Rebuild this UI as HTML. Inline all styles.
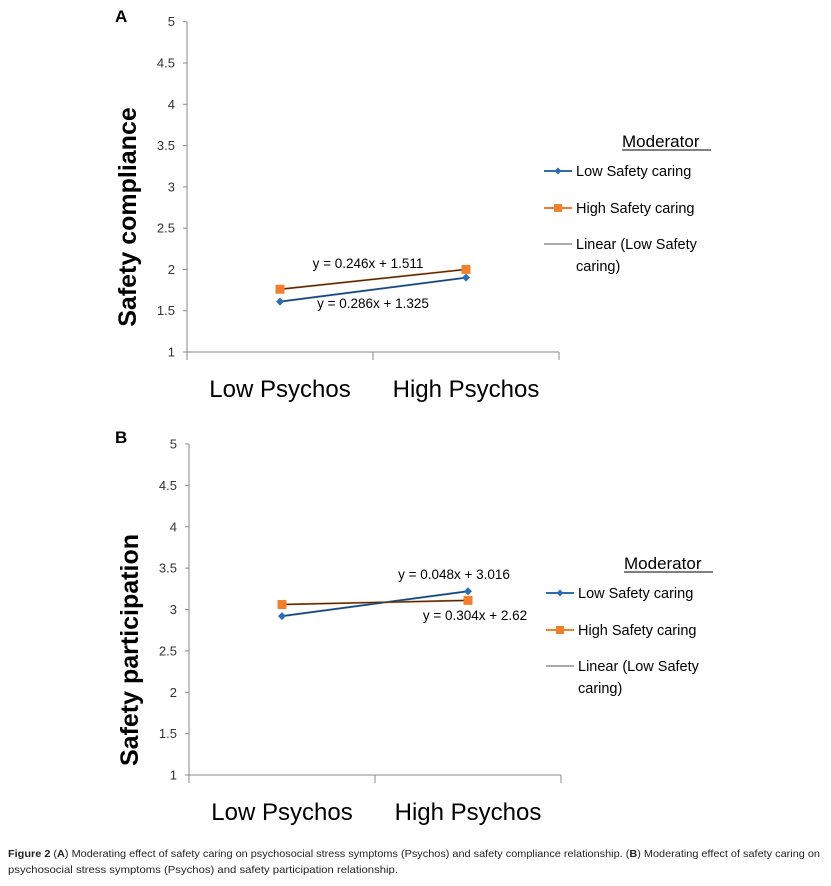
<!DOCTYPE html>
<html><head><meta charset="utf-8"><style>
html,body{margin:0;padding:0;background:#fff;}
svg{display:block;font-family:"Liberation Sans",sans-serif;}
</style></head><body>
<svg id="fig" width="831" height="886" viewBox="0 0 831 886" xmlns="http://www.w3.org/2000/svg">
<g id="chartA"></g>
<g id="chartB"></g>
<text x="8" y="857" font-size="10.5" textLength="812" lengthAdjust="spacingAndGlyphs" fill="#222"><tspan font-weight="bold">Figure 2</tspan> (<tspan font-weight="bold">A</tspan>) Moderating effect of safety caring on psychosocial stress symptoms (Psychos) and safety compliance relationship. (<tspan font-weight="bold">B</tspan>) Moderating effect of safety caring on</text>
<text x="8" y="873" font-size="10.5" textLength="390" lengthAdjust="spacingAndGlyphs" fill="#222">psychosocial stress symptoms (Psychos) and safety participation relationship.</text>
</svg>
<script>
const categories = ["Low Psychos", "High Psychos"];
const yTicks = [1, 1.5, 2, 2.5, 3, 3.5, 4, 4.5, 5];
const yTickLabels = ["1", "1.5", "2", "2.5", "3", "3.5", "4", "4.5", "5"];
const aLowCaring = [1.61, 1.90];
const aHighCaring = [1.76, 2.00];
const bLowCaring = [2.92, 3.22];
const bHighCaring = [3.06, 3.11];
const aEquations = ["y = 0.246x + 1.511", "y = 0.286x + 1.325"];
const bEquations = ["y = 0.048x + 3.016", "y = 0.304x + 2.62"];

const NS = "http://www.w3.org/2000/svg";
function mk(parent, tag, attrs, text) {
  const e = document.createElementNS(NS, tag);
  for (const k in attrs) e.setAttribute(k, attrs[k]);
  if (text !== undefined) e.textContent = text;
  parent.appendChild(e);
  return e;
}

function drawChart(g, cfg) {
  const x0 = cfg.x0, x1 = cfg.x1, yTop = cfg.yTop, yBot = cfg.yBot;
  const band = (x1 - x0) / categories.length;
  const xs = i => x0 + band * (i + 0.5);
  const ys = v => yBot - (v - 1) / 4 * (yBot - yTop);

  const letter = mk(g, "text", {x: cfg.letterX, y: cfg.letterY, "font-size": 17, "font-weight": "bold", fill: "#000"}, cfg.letter);
  
  

  const ax = mk(g, "line", {x1: x0, y1: yTop, x2: x0, y2: yBot, stroke: "#888", "stroke-width": 1});
  
  
  const xax = mk(g, "line", {x1: x0, y1: yBot, x2: x1, y2: yBot, stroke: "#888", "stroke-width": 1});
  
  
  for (let i = 0; i <= categories.length; i++) {
    const tx = x0 + band * i;
    const t = mk(g, "line", {x1: tx, y1: yBot, x2: tx, y2: yBot + 8, stroke: "#888"});
    
    
  }
  yTicks.forEach((v, i) => {
    const t = mk(g, "line", {x1: x0 - 4, y1: ys(v), x2: x0, y2: ys(v), stroke: "#888"});
    
    
    const l = mk(g, "text", {x: x0 - 12, y: ys(v) + 4.5, "font-size": 13, "text-anchor": "end", fill: "#333"}, yTickLabels[i]);
    
    
  });
  categories.forEach((c, i) => {
    const l = mk(g, "text", {x: xs(i), y: yBot + 45, "font-size": 24, "text-anchor": "middle", fill: "#000"}, c);
    
    
  });
  const yt = mk(g, "text", {x: 0, y: 0, "font-size": 25, "font-weight": "bold", "text-anchor": "middle", fill: "#000",
    transform: "translate(" + cfg.titleX + "," + cfg.titleY + ") rotate(-90)"}, cfg.title);
  
  

  const lp = cfg.low.map((v, i) => xs(i) + "," + ys(v)).join(" ");
  const hp = cfg.high.map((v, i) => xs(i) + "," + ys(v)).join(" ");
  const lowLine = mk(g, "polyline", {points: lp, fill: "none", stroke: "#2f6db0", "stroke-width": 2});
  
  
  const highLine = mk(g, "polyline", {points: hp, fill: "none", stroke: "#f07f2e", "stroke-width": 2});
  
  
  const trendH = mk(g, "polyline", {points: hp, fill: "none", stroke: "#3a2a20", "stroke-width": 1.2});
  
  
  const trendL = mk(g, "polyline", {points: lp, fill: "none", stroke: "#1d3f66", "stroke-width": 1});
  
  
  cfg.low.forEach((v, i) => {
    const cx = xs(i), cy = ys(v);
    const m = mk(g, "polygon", {points: (cx) + "," + (cy - 4) + " " + (cx + 4) + "," + cy + " " + cx + "," + (cy + 4) + " " + (cx - 4) + "," + cy, fill: "#2f6db0"});
    
    
  });
  cfg.high.forEach((v, i) => {
    const cx = xs(i), cy = ys(v);
    const m = mk(g, "rect", {x: cx - 4.5, y: cy - 4.5, width: 9, height: 9, fill: "#f07f2e"});
    
    
  });
  cfg.eqs.forEach((e, i) => {
    const t = mk(g, "text", {x: cfg.eqPos[i][0], y: cfg.eqPos[i][1], "font-size": 13.5, "text-anchor": "middle", fill: "#000"}, e);
    
    
  });

  const lx = cfg.legX, ly = cfg.legY;
  const mod = mk(g, "text", {x: lx + 78, y: ly, "font-size": 17, fill: "#000"}, "Moderator");
  
  
  const ul = mk(g, "line", {x1: lx + 78, y1: ly + 3, x2: lx + 167, y2: ly + 3, stroke: "#000", "stroke-width": 1});
  
  
  const entries = [["Low Safety caring", "#2f6db0", "d", 24], ["High Safety caring", "#f07f2e", "s", 61], ["Linear (Low Safety", "#555", "n", 97]];
  entries.forEach(en => {
    const yy = ly + en[3];
    const grp = mk(g, "g", {});
    
    
    mk(grp, "line", {x1: lx, y1: yy, x2: lx + 28, y2: yy, stroke: en[1], "stroke-width": en[2] === "n" ? 1 : 2});
    if (en[2] === "d") mk(grp, "polygon", {points: (lx + 14) + "," + (yy - 3.5) + " " + (lx + 17.5) + "," + yy + " " + (lx + 14) + "," + (yy + 3.5) + " " + (lx + 10.5) + "," + yy, fill: en[1]});
    if (en[2] === "s") mk(grp, "rect", {x: lx + 10, y: yy - 4, width: 8, height: 8, fill: en[1]});
    mk(grp, "text", {x: lx + 32, y: yy + 5, "font-size": 14.5, fill: "#000"}, en[0]);
    if (en[2] === "n") mk(grp, "text", {x: lx + 32, y: yy + 27, "font-size": 14.5, fill: "#000"}, "caring)");
  });
}

drawChart(document.getElementById("chartA"), {
  letter: "A", letterX: 115, letterY: 22, x0: 187, x1: 559, yTop: 21.7, yBot: 352,
  title: "Safety compliance", titleX: 136, titleY: 217, low: aLowCaring, high: aHighCaring,
  eqs: aEquations, eqPos: [[368, 268], [373, 308]], legX: 544, legY: 147
});
drawChart(document.getElementById("chartB"), {
  letter: "B", letterX: 115, letterY: 443, x0: 189, x1: 561, yTop: 444, yBot: 775,
  title: "Safety participation", titleX: 138, titleY: 650, low: bLowCaring, high: bHighCaring,
  eqs: bEquations, eqPos: [[454, 579], [475, 620]], legX: 546, legY: 569
});
</script>
</body></html>
